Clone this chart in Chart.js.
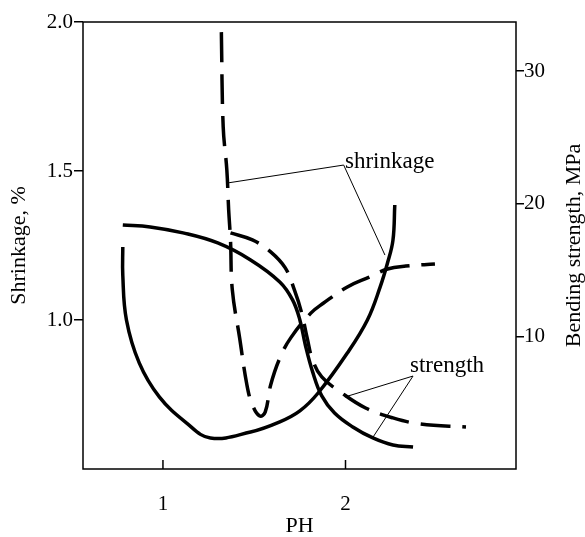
<!DOCTYPE html>
<html>
<head>
<meta charset="utf-8">
<script src="https://cdn.jsdelivr.net/npm/chart.js@4.4.1/dist/chart.umd.min.js"></script>
<style>
  html, body { margin: 0; padding: 0; background: #fff; }
</style>
</head>
<body>
<canvas id="myChart" width="585" height="537"></canvas>
<script>
// shrinkage curves (left axis, %)
const shrinkSolidPH = [0.78, 0.78, 0.80, 0.87, 0.98, 1.13, 1.26, 1.48, 1.64, 1.75, 1.85, 2.01, 2.12, 2.19, 2.23, 2.26, 2.27];
const shrinkSolid = [1.245, 1.15, 1.0, 0.856, 0.742, 0.654, 0.604, 0.624, 0.658, 0.695, 0.755, 0.889, 1.0, 1.111, 1.191, 1.268, 1.386];
const shrinkDashPH = [1.32, 1.33, 1.35, 1.36, 1.37, 1.38, 1.42, 1.46, 1.49, 1.53, 1.56, 1.59, 1.64, 1.70, 1.81, 1.88, 2.01, 2.13, 2.23, 2.33, 2.49];
const shrinkDash = [1.966, 1.648, 1.503, 1.369, 1.268, 1.101, 0.940, 0.782, 0.715, 0.678, 0.691, 0.782, 0.872, 0.940, 1.023, 1.057, 1.111, 1.144, 1.171, 1.181, 1.188];

// strength curves (right axis, MPa)
const strengthSolidPH = [0.78, 0.93, 1.11, 1.30, 1.48, 1.64, 1.71, 1.75, 1.78, 1.82, 1.87, 1.94, 2.04, 2.15, 2.26, 2.37];
const strengthSolid = [18.4, 18.25, 17.8, 17.04, 15.76, 14.1, 12.75, 11.24, 9.35, 7.32, 5.51, 4.22, 3.17, 2.34, 1.81, 1.66];
const strengthDashPH = [1.37, 1.49, 1.59, 1.67, 1.72, 1.76, 1.79, 1.82, 1.87, 1.98, 2.11, 2.26, 2.41, 2.66];
const strengthDash = [17.8, 17.27, 16.37, 15.16, 13.5, 11.76, 9.88, 8.22, 6.94, 5.73, 4.6, 3.85, 3.39, 3.17];

// leader lines from the labels to the curves
const shrinkLeaderPH = [1.356, 1.99, 2.216];
const shrinkLeader = [1.46, 1.52, 1.218];
const strengthLeaderPH = [1.997, 2.37, 2.151];
const strengthLeader = [5.43, 7.01, 2.41];

// tick values
const phTicks = [1, 2];
const shrinkTicks = [1.0, 1.5, 2.0];
const strengthTicks = [10, 20, 30];

// curve labels
const noteText = ['shrinkage', 'strength'];
const notePH = [1.997, 2.353];
const noteVal = [1.53, 7.77];
const noteAxis = ['y', 'y1'];

const serif = '"Liberation Serif", "Times New Roman", serif';
const pts = (xs, ys) => xs.map((x, i) => ({ x: x, y: ys[i] }));

function curve(xs, ys, axis, dashed) {
    return {
        data: pts(xs, ys),
        yAxisID: axis,
        showLine: true,
        borderColor: '#000',
        borderWidth: 3.5,
        borderDash: dashed ? [30, 12] : [],
        borderJoinStyle: 'round',
        pointRadius: 0,
        tension: 0.4,
        fill: false
    };
}

function leader(xs, ys, axis) {
    return {
        data: pts(xs, ys),
        yAxisID: axis,
        showLine: true,
        borderColor: '#000',
        borderWidth: 1,
        pointRadius: 0,
        tension: 0,
        fill: false
    };
}

const framePlugin = {
    id: 'frame',
    afterDatasetsDraw(chart) {
        const { ctx, chartArea: a, scales } = chart;
        ctx.save();
        ctx.strokeStyle = '#000';
        ctx.lineWidth = 1.5;
        ctx.strokeRect(a.left, a.top, a.right - a.left, a.bottom - a.top);
        // x ticks point into the plot
        scales.x.ticks.forEach(t => {
            const px = scales.x.getPixelForValue(t.value);
            ctx.beginPath();
            ctx.moveTo(px, a.bottom);
            ctx.lineTo(px, a.bottom - 9);
            ctx.stroke();
        });
        ctx.font = '23px ' + serif;
        ctx.fillStyle = '#000';
        ctx.textBaseline = 'middle';
        noteText.forEach((t, i) => {
            ctx.fillText(t, scales.x.getPixelForValue(notePH[i]), scales[noteAxis[i]].getPixelForValue(noteVal[i]));
        });
        // right title reads bottom to top
        ctx.font = '22px ' + serif;
        ctx.translate(574, (a.top + a.bottom) / 2);
        ctx.rotate(-Math.PI / 2);
        ctx.textAlign = 'center';
        ctx.fillText('Bending strength, MPa', 0, 0);
        ctx.restore();
    }
};

const tickFont = { family: serif, size: 21 };

new Chart(document.getElementById('myChart'), {
    type: 'scatter',
    data: {
        datasets: [
            curve(shrinkSolidPH, shrinkSolid, 'y', false),
            curve(shrinkDashPH, shrinkDash, 'y', true),
            curve(strengthSolidPH, strengthSolid, 'y1', false),
            curve(strengthDashPH, strengthDash, 'y1', true),
            leader(shrinkLeaderPH, shrinkLeader, 'y'),
            leader(strengthLeaderPH, strengthLeader, 'y1')
        ]
    },
    options: {
        responsive: false,
        animation: false,
        layout: { padding: { top: 22 } },
        plugins: {
            legend: { display: false },
            tooltip: { enabled: false }
        },
        scales: {
            x: {
                type: 'linear',
                min: 0.562,
                max: 2.934,
                afterBuildTicks: s => { s.ticks = phTicks.map(v => ({ value: v })); },
                afterFit: s => { s.height = 68; },
                grid: { display: false },
                border: { display: false },
                ticks: { color: '#000', font: tickFont, padding: 15, maxRotation: 0, callback: v => String(v) },
                title: { display: true, text: 'PH', color: '#000', font: { family: serif, size: 22, lineHeight: 1 }, padding: 0 }
            },
            y: {
                position: 'left',
                min: 0.5,
                max: 2.0,
                afterBuildTicks: s => { s.ticks = shrinkTicks.map(v => ({ value: v })); },
                afterFit: s => { s.width = 83; },
                grid: { drawOnChartArea: false, color: '#000', lineWidth: 1.5, tickLength: 9 },
                border: { display: false },
                ticks: { color: '#000', font: tickFont, padding: 1, callback: v => v.toFixed(1) },
                title: { display: true, text: 'Shrinkage, %', color: '#000', font: { family: serif, size: 22, lineHeight: 1 }, padding: { top: 8, bottom: 0 } }
            },
            y1: {
                position: 'right',
                min: 0,
                max: 33.7,
                afterBuildTicks: s => { s.ticks = strengthTicks.map(v => ({ value: v })); },
                afterFit: s => { s.width = 69; },
                grid: { drawOnChartArea: false, color: '#000', lineWidth: 1.5, tickLength: 8 },
                border: { display: false },
                ticks: { color: '#000', font: tickFont, padding: 0, callback: v => String(v) }
            }
        }
    },
    plugins: [framePlugin]
});
</script>
</body>
</html>
